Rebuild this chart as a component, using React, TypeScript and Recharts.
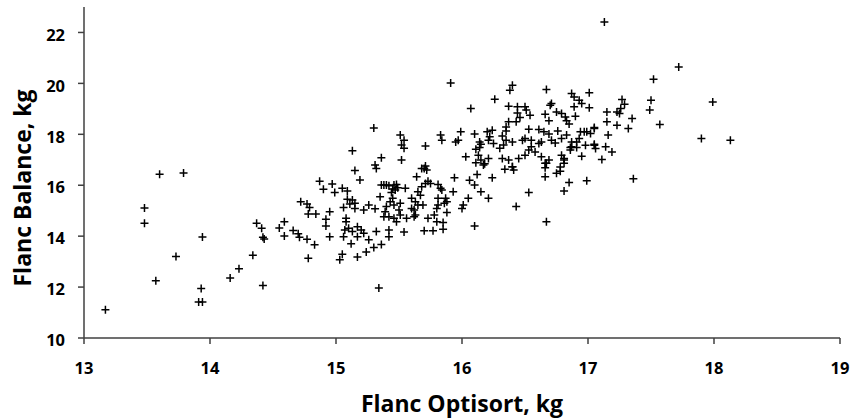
import React from 'react';
import { ScatterChart, Scatter, XAxis, YAxis, Label } from 'recharts';

// Axis ticks and domains
const xTicks = [13, 14, 15, 16, 17, 18, 19];
const yTicks = [10, 12, 14, 16, 18, 20, 22];
const xDomain: [number, number] = [13, 19];
const yDomain: [number, number] = [10, 23];

const xTitle = 'Flanc Optisort, kg';
const yTitle = 'Flanc Balance, kg';

// [Flanc Optisort, Flanc Balance] pairs
const leftTail: [number, number][] = [
  [13.6, 16.43], [13.79, 16.48], [13.48, 15.11], [13.48, 14.51], [13.94, 13.97],
  [13.73, 13.2], [13.57, 12.25], [13.93, 11.94], [13.91, 11.41], [13.94, 11.41],
  [13.17, 11.11], [14.16, 12.36], [14.23, 12.72], [14.34, 13.25], [14.42, 12.06],
];

const lowBand: [number, number][] = [
  [14.37, 14.51], [14.41, 14.31], [14.42, 13.96], [14.43, 13.89], [14.55, 14.32],
  [14.59, 14.57], [14.59, 14.01], [14.66, 14.22], [14.7, 14.09], [14.71, 13.96],
  [14.77, 13.88], [14.83, 13.66], [14.87, 16.16], [14.9, 15.84], [14.97, 16.05],
  [14.99, 15.71], [15.05, 15.88], [15.09, 15.77], [14.72, 15.35], [14.77, 15.26],
  [14.79, 15.13], [14.78, 14.87], [14.84, 14.87], [14.95, 14.96], [14.92, 14.66],
  [14.92, 14.4], [14.95, 13.98], [14.78, 13.13], [15.09, 15.45], [15.13, 15.42],
  [15.15, 15.29], [15.11, 15.26], [15.06, 15.13], [15.15, 15.09], [15.22, 15.03],
  [15.26, 15.22], [15.31, 15.08], [15.08, 14.7], [15.08, 14.57], [15.07, 14.24],
  [15.1, 14.31], [15.17, 14.37], [15.22, 14.11], [15.06, 13.98], [15.17, 13.98],
  [15.26, 13.86], [15.12, 13.7], [15.13, 14.18], [15.2, 14.24], [15.32, 14.18],
  [15.42, 14.24], [15.42, 13.98], [15.54, 14.16], [15.36, 13.67], [15.17, 13.18],
  [15.24, 13.38], [15.3, 13.55], [15.05, 13.29], [15.03, 13.07], [15.34, 11.96],
];

const midBand: [number, number][] = [
  [15.13, 17.35], [15.15, 16.58], [15.19, 16.21], [15.31, 16.79], [15.32, 16.66],
  [15.3, 18.25], [15.36, 17.08], [15.36, 16.01], [15.38, 16.01], [15.4, 16.01],
  [15.42, 15.98], [15.46, 16.01], [15.48, 16.03], [15.49, 15.9], [15.47, 15.81],
  [15.45, 15.85], [15.55, 15.88], [15.44, 15.71], [15.35, 15.55], [15.45, 15.49],
  [15.43, 15.35], [15.46, 15.22], [15.51, 15.29], [15.5, 15.03], [15.4, 15.16],
  [15.39, 14.96], [15.38, 14.76], [15.42, 14.76], [15.46, 14.7], [15.48, 14.57],
  [15.51, 14.83], [15.56, 14.7], [15.62, 14.76], [15.6, 15.49], [15.63, 15.35],
  [15.65, 15.22], [15.69, 15.22], [15.62, 15.03], [15.63, 14.83], [15.6, 15.09],
  [15.73, 14.7], [15.7, 14.21], [15.77, 14.21], [15.85, 14.27], [15.85, 14.54],
  [15.88, 14.93], [15.8, 15.09], [15.81, 15.22], [15.78, 14.83], [15.8, 14.57],
  [15.81, 15.49], [15.87, 15.49], [15.86, 15.29], [15.88, 15.35], [15.83, 15.88],
  [15.84, 15.81], [15.81, 16.03], [15.7, 16.66], [15.72, 16.6], [15.71, 16.76],
  [15.64, 16.33], [15.73, 16.16], [15.71, 16.07], [15.75, 16.07], [15.68, 15.94],
  [15.65, 15.74], [15.67, 15.61], [15.94, 16.29], [15.93, 15.74], [16.06, 16.2],
  [16.1, 16.01], [16.15, 15.74], [16.21, 15.49], [16.05, 15.49], [16.01, 15.22],
  [16.0, 15.09], [16.24, 16.29], [16.1, 14.4], [16.43, 15.16], [16.53, 15.71],
  [16.67, 14.57], [15.52, 16.99], [16.11, 16.88], [16.18, 16.84], [16.12, 16.42],
  [16.34, 16.63], [16.41, 16.6], [16.4, 16.73], [16.17, 16.79], [16.66, 16.33],
  [16.75, 16.47], [16.78, 16.55], [16.78, 16.72], [16.66, 16.69], [16.67, 16.86],
  [16.81, 15.77], [16.85, 16.11], [16.99, 16.18], [15.68, 16.66],
];

const upperBand: [number, number][] = [
  [15.91, 20.02], [16.4, 19.93], [16.38, 19.73], [16.67, 19.76], [16.87, 19.6],
  [16.26, 19.38], [16.07, 19.01], [16.37, 19.1], [16.44, 19.08], [16.5, 19.08],
  [16.51, 18.95], [16.54, 18.75], [16.44, 18.84], [16.46, 18.66], [16.43, 18.49],
  [16.37, 18.49], [16.35, 18.29], [16.35, 18.13], [16.7, 19.14], [16.71, 19.21],
  [16.66, 18.79], [16.69, 18.53], [16.75, 18.88], [16.79, 18.82], [16.82, 18.68],
  [16.83, 18.53], [16.85, 18.4], [16.53, 18.2], [16.61, 18.19], [16.65, 18.1],
  [16.69, 18.01], [16.76, 18.13], [16.83, 17.97], [16.86, 17.48], [16.87, 17.7],
  [15.51, 17.97], [15.54, 17.77], [15.52, 17.58], [15.54, 17.45], [15.71, 17.54],
  [15.83, 17.97], [15.84, 17.77], [15.95, 17.7], [15.99, 18.1], [15.97, 17.77],
  [16.1, 18.01], [16.2, 18.1], [16.24, 18.16], [16.22, 17.9], [16.21, 17.77],
  [16.25, 17.64], [16.14, 17.7], [16.15, 17.61], [16.32, 17.93], [16.35, 17.77],
  [16.33, 17.58], [16.3, 17.45], [16.4, 17.7], [16.48, 17.77], [16.5, 17.84],
  [16.55, 17.77], [16.61, 17.64], [16.63, 17.7], [16.71, 17.77], [16.74, 17.66],
  [16.79, 17.84], [16.11, 17.41], [16.14, 17.48], [16.03, 17.12], [16.13, 17.18],
  [16.15, 16.99], [16.21, 17.05], [16.32, 17.05], [16.37, 16.99], [16.4, 16.73],
  [16.45, 17.05], [16.5, 17.18], [16.53, 17.38], [16.55, 17.51], [16.58, 17.31],
  [16.63, 17.12], [16.66, 16.86], [16.69, 16.99], [16.79, 17.18], [16.81, 16.99],
];

const rightTail: [number, number][] = [
  [17.01, 19.63], [16.89, 19.47], [16.93, 19.34], [16.95, 19.21], [17.01, 19.04],
  [16.89, 19.08], [16.9, 18.71], [17.05, 18.27], [17.05, 17.61], [16.95, 17.14],
  [16.86, 17.38], [16.81, 17.05], [16.81, 16.86], [16.94, 18.1], [16.97, 18.1],
  [16.99, 18.1], [17.02, 18.03], [16.93, 17.84], [16.91, 17.7], [16.87, 17.51],
  [16.91, 17.48], [16.98, 17.57], [17.05, 17.57], [17.06, 17.44], [17.14, 17.51],
  [17.19, 17.31], [17.11, 17.01], [17.27, 19.37], [17.29, 19.18], [17.26, 19.01],
  [17.23, 18.88], [17.25, 18.82], [17.15, 18.88], [17.15, 18.49], [17.23, 18.36],
  [17.35, 18.62], [17.32, 18.23], [17.16, 17.97], [17.05, 18.23], [17.72, 20.64],
  [17.52, 20.16], [17.99, 19.27], [17.5, 19.34], [17.49, 18.95], [17.57, 18.39],
  [17.9, 17.84], [18.13, 17.77], [17.36, 16.25], [17.13, 22.41],
];

const points = [...leftTail, ...lowBand, ...midBand, ...upperBand, ...rightTail].map(
  ([x, y]) => ({ x, y })
);

const FONT = "'Open Sans', 'DejaVu Sans', sans-serif";
const AXIS_COLOR = '#404040';

const Plus = (props: any) => {
  const { cx, cy } = props;
  if (cx == null || cy == null) return <g />;
  const a = 4;
  return (
    <path
      d={`M${cx - a},${cy}H${cx + a}M${cx},${cy - a}V${cy + a}`}
      stroke="#000"
      strokeWidth={1.5}
      fill="none"
    />
  );
};

const XTick = (props: any) => {
  const { x, y, payload } = props;
  return (
    <text x={x} y={y} dy="0.71em" textAnchor="middle" fontFamily={FONT} fontWeight={700} fontSize={16.5} fill="#000">
      {payload.value}
    </text>
  );
};

const YTick = (props: any) => {
  const { x, y, payload } = props;
  return (
    <text x={x} y={y} dy="0.5em" textAnchor="end" fontFamily={FONT} fontWeight={700} fontSize={16.5} fill="#000">
      {payload.value}
    </text>
  );
};

const XTitle = (props: any) => {
  const vb = props.viewBox || { x: 84, width: 756 };
  return (
    <text x={vb.x + vb.width / 2} y={411.5} textAnchor="middle" fontFamily={FONT} fontWeight={700} fontSize={23} fill="#000">
      {xTitle}
    </text>
  );
};

const YTitle = () => (
  <text transform="translate(31,188) rotate(-90)" textAnchor="middle" fontFamily={FONT} fontWeight={700} fontSize={23} fill="#000">
    {yTitle}
  </text>
);

export default function App() {
  return (
    <div style={{ position: 'absolute', left: 0, top: 0, width: 854, height: 419, background: '#fff' }}>
      <ScatterChart width={854} height={419} margin={{ top: 7, right: 14, bottom: 0, left: 0 }}>
        <XAxis
          type="number"
          dataKey="x"
          domain={xDomain}
          ticks={xTicks}
          allowDataOverflow
          height={81}
          tickSize={6}
          tickMargin={18}
          tick={<XTick />}
          axisLine={{ stroke: AXIS_COLOR, strokeWidth: 1.5 }}
          tickLine={{ stroke: AXIS_COLOR, strokeWidth: 1.5 }}
        >
          <Label content={<XTitle />} />
        </XAxis>
        <YAxis
          type="number"
          dataKey="y"
          domain={yDomain}
          ticks={yTicks}
          allowDataOverflow
          width={84}
          tickSize={6}
          tickMargin={13}
          tick={<YTick />}
          axisLine={{ stroke: AXIS_COLOR, strokeWidth: 1.5 }}
          tickLine={{ stroke: AXIS_COLOR, strokeWidth: 1.5 }}
        >
          <Label content={<YTitle />} />
        </YAxis>
        <Scatter data={points} shape={<Plus />} isAnimationActive={false} />
      </ScatterChart>
    </div>
  );
}
